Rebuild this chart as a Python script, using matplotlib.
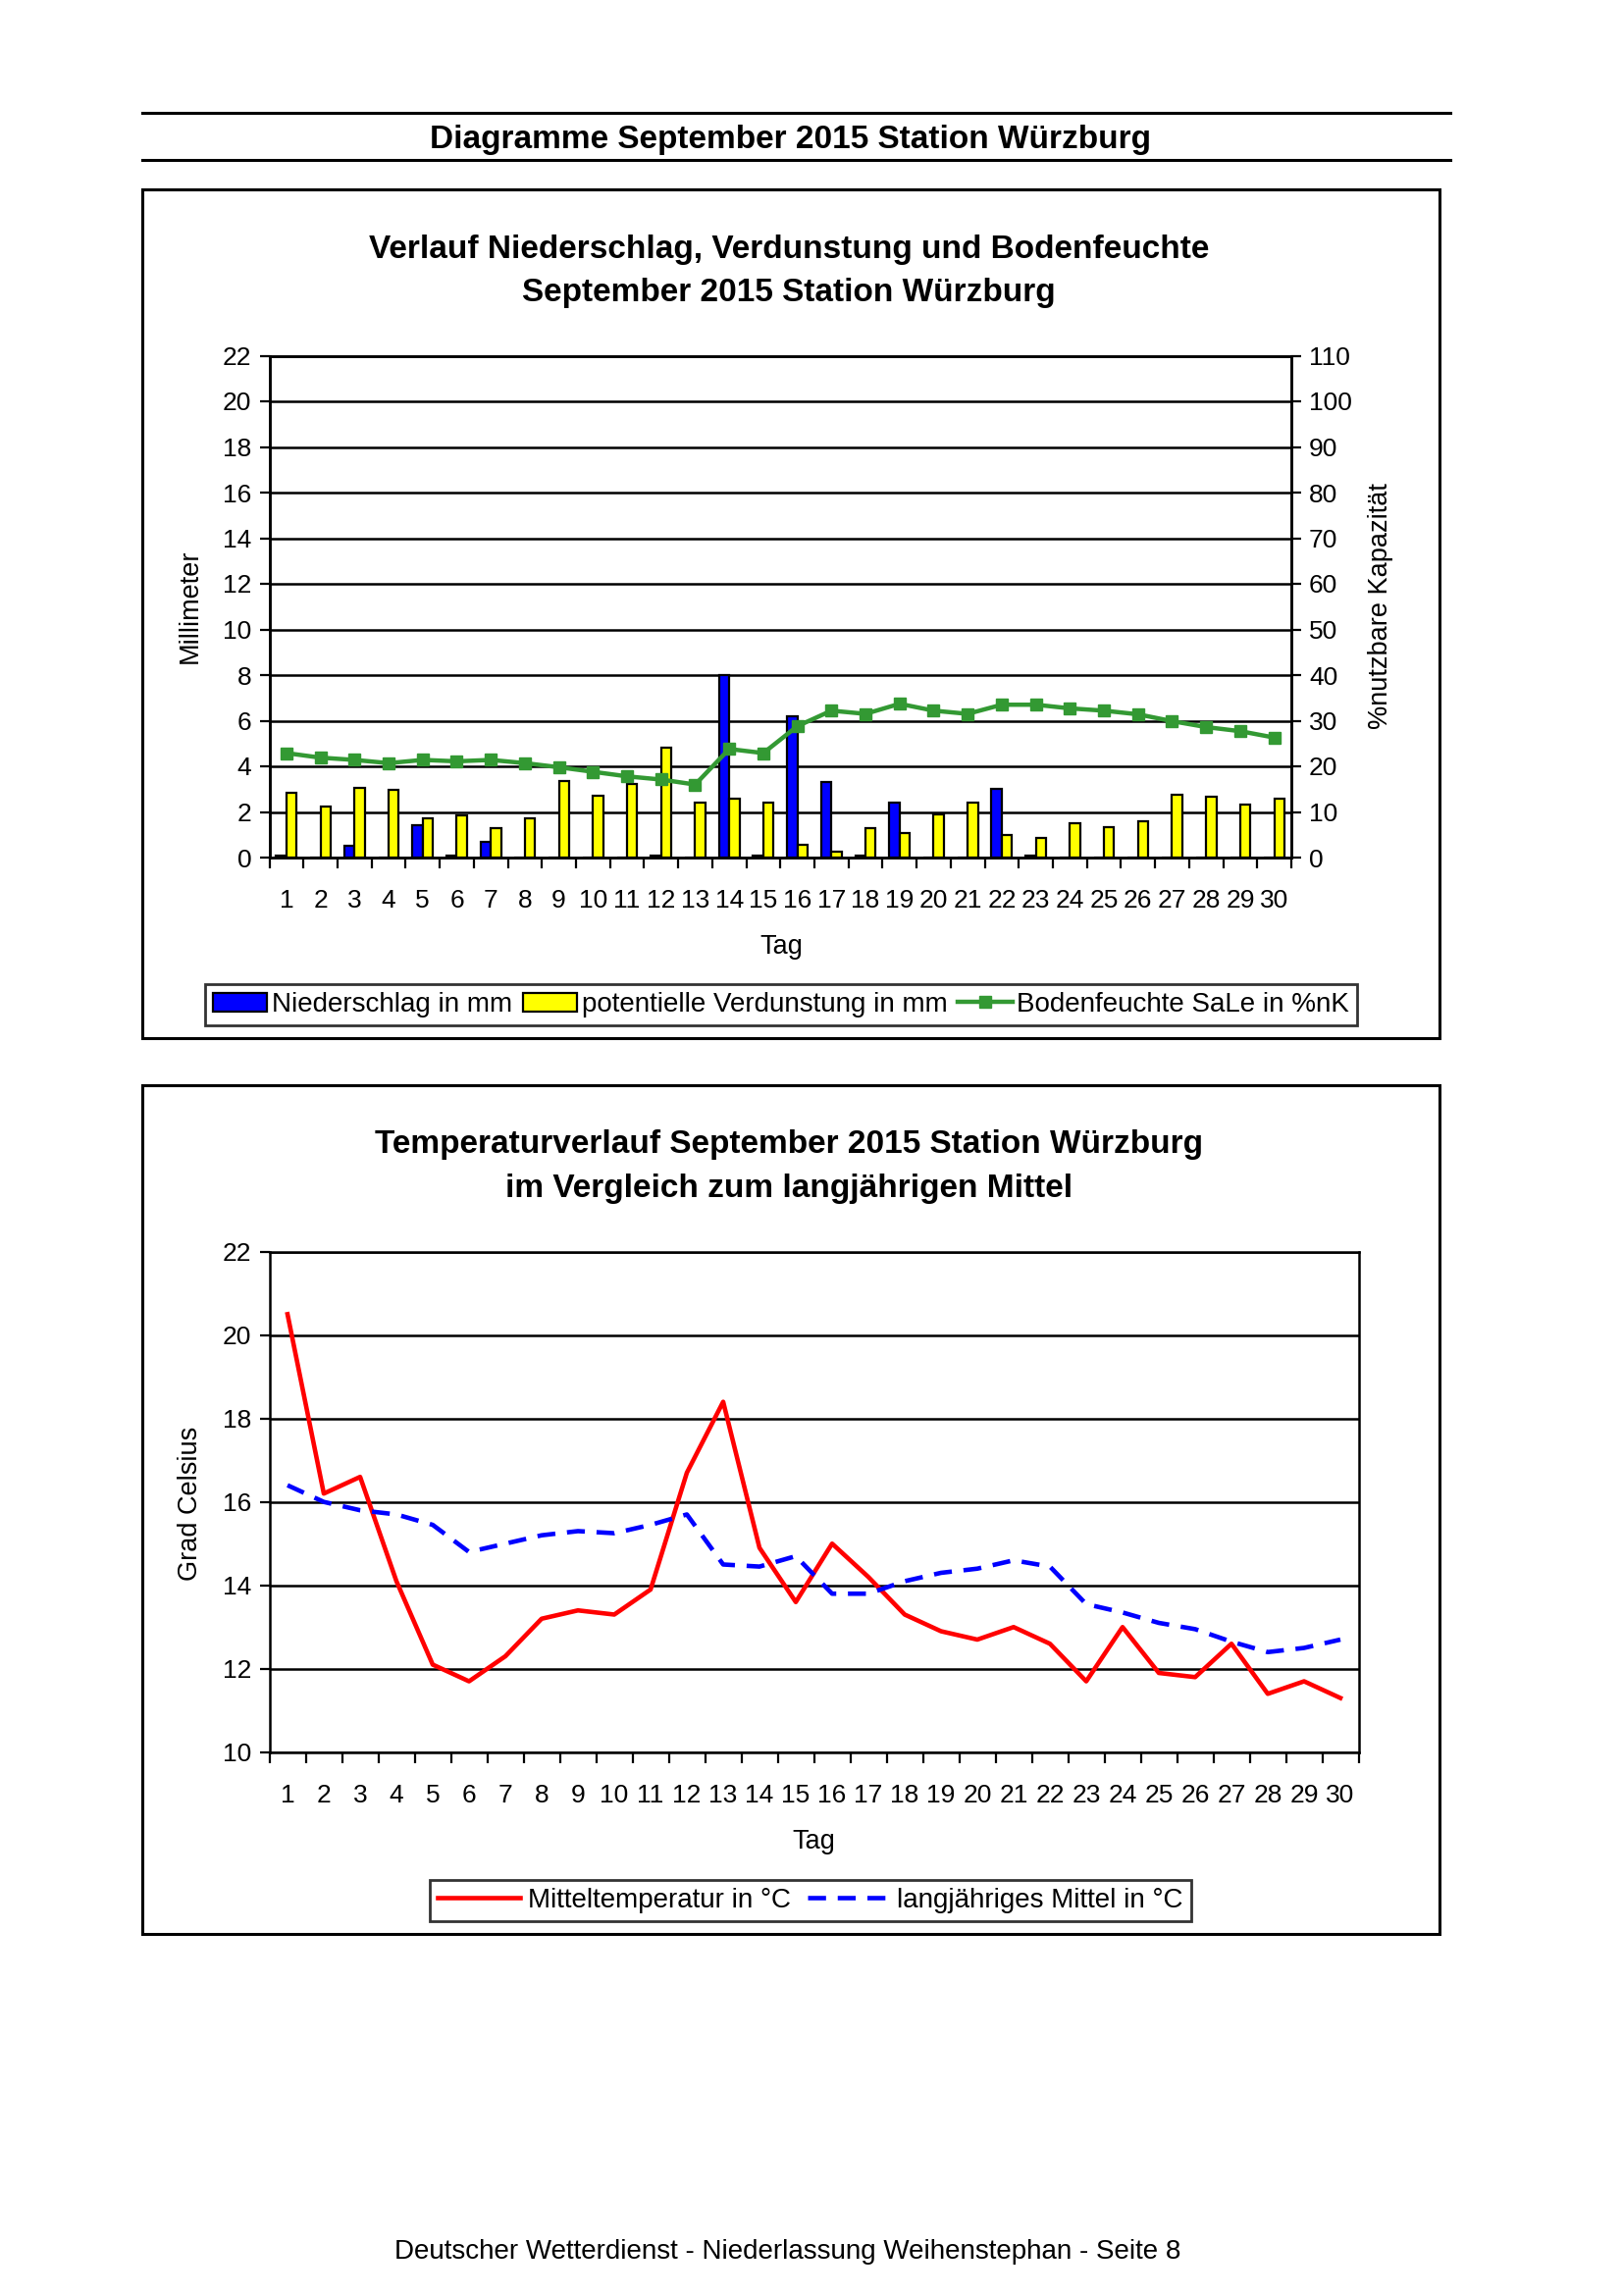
import numpy as np
import matplotlib
matplotlib.use("Agg")
import matplotlib.pyplot as plt
from matplotlib.patches import Rectangle
from matplotlib.lines import Line2D

plt.rcParams['font.family'] = ['Liberation Sans', 'DejaVu Sans']

# Daten September 2015, Station Würzburg
tage = np.arange(1, 31)
niederschlag = [0.1, 0, 0.5, 0, 1.4, 0.1, 0.7, 0, 0, 0, 0, 0.1, 0, 8.0, 0.1,
                6.2, 3.3, 0.1, 2.4, 0, 0, 3.0, 0.1, 0, 0, 0, 0, 0, 0, 0]
verdunstung = [2.85, 2.24, 3.04, 2.95, 1.70, 1.84, 1.27, 1.70, 3.35, 2.69,
               3.24, 4.83, 2.42, 2.60, 2.42, 0.55, 0.26, 1.27, 1.09, 1.90,
               2.42, 1.00, 0.86, 1.51, 1.34, 1.60, 2.75, 2.68, 2.33, 2.60]
bodenfeuchte = [22.9, 21.9, 21.4, 20.7, 21.4, 21.1, 21.4, 20.7, 19.8, 18.8,
                17.8, 17.1, 16.0, 23.8, 22.9, 28.8, 32.2, 31.5, 33.7, 32.2,
                31.5, 33.5, 33.5, 32.7, 32.2, 31.4, 29.9, 28.6, 27.7, 26.3]
temp_mittel = [20.5, 16.2, 16.6, 14.1, 12.1, 11.7, 12.3, 13.2, 13.4, 13.3,
               13.9, 16.7, 18.4, 14.9, 13.6, 15.0, 14.2, 13.3, 12.9, 12.7,
               13.0, 12.6, 11.7, 13.0, 11.9, 11.8, 12.6, 11.4, 11.7, 11.3]
temp_lang = [16.4, 16.0, 15.8, 15.7, 15.45, 14.8, 15.0, 15.2, 15.3, 15.25,
             15.45, 15.7, 14.5, 14.45, 14.7, 13.8, 13.8, 14.1, 14.3, 14.4,
             14.6, 14.45, 13.55, 13.35, 13.1, 12.95, 12.65, 12.4, 12.5, 12.7]

W, H = 1653, 2340
fig = plt.figure(figsize=(W / 100, H / 100), dpi=100)


def rect(x0, y0, x1, y1):
    return [x0 / W, 1 - y1 / H, (x1 - x0) / W, (y1 - y0) / H]


def ftext(x, y, s, **kw):
    fig.text(x / W, 1 - y / H, s, ha='center', va='center', **kw)


def hline(x0, x1, y, lw=2.2):
    fig.add_artist(Line2D([x0 / W, x1 / W], [1 - y / H, 1 - y / H],
                          color='black', lw=lw))


def box(x0, y0, x1, y1):
    fig.add_artist(Rectangle((x0 / W, 1 - y1 / H), (x1 - x0) / W, (y1 - y0) / H,
                             fill=False, edgecolor='black', lw=2.2))


# Kopfzeile
hline(145, 1478, 115)
hline(145, 1478, 163)
ftext(806, 143, "Diagramme September 2015 Station Würzburg", fontsize=24, fontweight='bold')

box(145, 193, 1467, 1058)
box(145, 1106, 1467, 1971)


def style_x(ax):
    ax.set_xlim(0.5, 30.5)
    ax.set_xticks(tage)
    ax.set_xticklabels([str(t) for t in tage])
    ax.set_xticks(np.arange(0.5, 31, 1), minor=True)
    ax.tick_params(axis='x', which='major', length=0, pad=23, labelsize=19)
    ax.tick_params(axis='x', which='minor', direction='out', length=8, width=1.6)


# ---- Diagramm 1: Niederschlag, Verdunstung, Bodenfeuchte ----
ax1 = fig.add_axes(rect(274.5, 362.5, 1316, 874))
ax1.bar(tage - 0.15, niederschlag, width=0.3, color='#0000ff', edgecolor='black',
        lw=1.6, label='Niederschlag in mm', zorder=3)
ax1.bar(tage + 0.15, verdunstung, width=0.3, color='#ffff00', edgecolor='black',
        lw=1.6, label='potentielle Verdunstung in mm', zorder=3)
ax1.set_ylim(0, 22)
ax1.set_yticks(np.arange(0, 23, 2))
ax1.yaxis.grid(True, color='black', lw=1.8)
ax1.set_axisbelow(True)
style_x(ax1)
ax1.tick_params(axis='y', direction='out', length=7, width=1.6, pad=6, labelsize=19)
for s in ax1.spines.values():
    s.set_linewidth(1.8)

ax1b = ax1.twinx()
ax1b.plot(tage, bodenfeuchte, color='#339933', lw=3.2, marker='s', markersize=8.5,
          label='Bodenfeuchte SaLe in %nK', zorder=4)
ax1b.set_ylim(0, 110)
ax1b.set_yticks(np.arange(0, 111, 10))
ax1b.tick_params(axis='y', direction='out', length=7, width=1.6, pad=6, labelsize=19)
for s in ax1b.spines.values():
    s.set_linewidth(1.8)

ftext(804, 254, "Verlauf Niederschlag, Verdunstung und Bodenfeuchte", fontsize=24, fontweight='bold')
ftext(804, 299, "September 2015 Station Würzburg", fontsize=24, fontweight='bold')
ftext(194, 618, "Millimeter", fontsize=19.5, rotation=90)
ftext(1407, 618, "%nutzbare Kapazität", fontsize=19.5, rotation=90)
ftext(796, 965, "Tag", fontsize=19.5)

h1, l1 = ax1.get_legend_handles_labels()
h2, l2 = ax1b.get_legend_handles_labels()
leg1 = fig.legend(h1 + h2, l1 + l2, loc='center', bbox_to_anchor=(796 / W, 1 - 1024 / H),
                  ncol=3, fontsize=20, frameon=True, fancybox=False, edgecolor='black',
                  handlelength=2.0, handletextpad=0.15, columnspacing=0.4, borderpad=0.3)
leg1.get_frame().set_linewidth(2)

# ---- Diagramm 2: Temperatur ----
ax2 = fig.add_axes(rect(274.5, 1275.6, 1384.5, 1785.8))
ax2.plot(tage, temp_mittel, color='#ff0000', lw=3.3, label='Mitteltemperatur in °C')
ax2.plot(tage, temp_lang, color='#0000ff', lw=3.3, dashes=(4, 2.6),
         label='langjähriges Mittel in °C')
ax2.set_ylim(10, 22)
ax2.set_yticks(np.arange(10, 23, 2))
ax2.yaxis.grid(True, color='black', lw=1.8)
ax2.set_axisbelow(True)
style_x(ax2)
ax2.tick_params(axis='y', direction='out', length=7, width=1.6, pad=6, labelsize=19)
for s in ax2.spines.values():
    s.set_linewidth(1.8)

ftext(804, 1167, "Temperaturverlauf September 2015 Station Würzburg", fontsize=24, fontweight='bold')
ftext(804, 1211, "im Vergleich zum langjährigen Mittel", fontsize=24, fontweight='bold')
ftext(194, 1532, "Grad Celsius", fontsize=19.5, rotation=90)
ftext(829, 1877, "Tag", fontsize=19.5)

leg2 = ax2.legend(loc='center', bbox_to_anchor=(826 / W, 1 - 1937 / H),
                  bbox_transform=fig.transFigure, ncol=2, fontsize=20, frameon=True,
                  fancybox=False, edgecolor='black', handlelength=3.0,
                  handletextpad=0.3, columnspacing=0.6, borderpad=0.3)
leg2.get_frame().set_linewidth(2)

ftext(803, 2295, "Deutscher Wetterdienst - Niederlassung Weihenstephan - Seite 8", fontsize=20)

fig.savefig("out.png", dpi=100, facecolor='white')
